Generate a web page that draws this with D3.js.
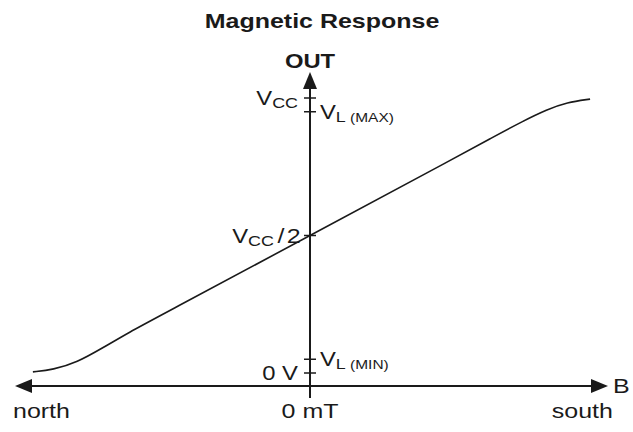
<!DOCTYPE html>
<html>
<head>
<meta charset="utf-8">
<script src="https://cdn.jsdelivr.net/npm/d3@7"></script>
<style>
  html, body { margin: 0; padding: 0; background: #fff; }
  svg { display: block; }
  text { font-family: "Liberation Sans", Arial, sans-serif; fill: #1a1a1a; }
</style>
</head>
<body>
<svg id="chart" width="633" height="432"></svg>
<script>
// Transfer curve: field B (mT, north negative) vs output (fraction of VCC)
const fieldMT = [-93.3, -86.5, -78.5, -69.7, -60.6, -51.2, 0, 51.2, 60.6, 71.7, 79.8, 86.5, 94.3];
const outFrac = [0.004, 0.012, 0.038, 0.092, 0.150, 0.204, 0.5, 0.796, 0.852, 0.916, 0.958, 0.984, 0.996];

// Output reference levels on the vertical axis
const levelValues = [1, 0.95, 0.5, 0.05, 0];
const levelSide   = ["left", "right", "left", "right", "left"];
const levelMain   = ["V", "V", "V", "V", "0 V"];
const levelSub    = ["CC", "L", "CC", "L", ""];
const levelSub2   = ["", " (MAX)", "", " (MIN)", ""];
const levelTail   = ["", "", "/2", "", ""];

// Field axis labels
const fieldLabels = ["north", "0 mT", "south"];
const fieldLabelAt = [-100, 0, 102];
const fieldLabelAnchor = ["start", "middle", "end"];

const svg = d3.select("#chart");
const ink = "#1a1a1a";
const SX = 1.19; // horizontal stretch of the lettering

const x = d3.scaleLinear().domain([-100, 100]).range([13, 607]);
const y = d3.scaleLinear().domain([0, 1]).range([373, 98]);

const x0 = x(0);
const axisY = 386;

function label(px, py, anchor, size, weight) {
  const g = svg.append("g").attr("transform", `translate(${px},${py}) scale(${SX},1)`);
  return g.append("text")
    .attr("text-anchor", anchor)
    .attr("font-size", size)
    .attr("font-weight", weight || "normal");
}

// Title
label(322, 28, "middle", 21, "bold").text("Magnetic Response");

// Horizontal (field) axis with arrowheads at both ends
svg.append("line").attr("x1", 26).attr("x2", 597).attr("y1", axisY).attr("y2", axisY)
  .attr("stroke", ink).attr("stroke-width", 2);
svg.append("path").attr("d", `M15,${axisY} L32,${axisY - 7} L32,${axisY + 7} Z`).attr("fill", ink);
svg.append("path").attr("d", `M608,${axisY} L591,${axisY - 7} L591,${axisY + 7} Z`).attr("fill", ink);

// Vertical (output) axis with arrowhead
svg.append("line").attr("x1", x0).attr("x2", x0).attr("y1", 398).attr("y2", 84)
  .attr("stroke", ink).attr("stroke-width", 2);
svg.append("path").attr("d", `M${x0},72 L${x0 - 7},89 L${x0 + 7},89 Z`).attr("fill", ink);

// Axis titles
label(x0, 68, "middle", 20, "bold").text("OUT");
label(613, 393, "start", 21).text("B");

// Level ticks and labels
levelValues.forEach((v, i) => {
  const py = y(v);
  svg.append("line").attr("x1", x0 - 6).attr("x2", x0 + 6).attr("y1", py).attr("y2", py)
    .attr("stroke", ink).attr("stroke-width", 1.5);
  const right = levelSide[i] === "right";
  const hasTail = !!levelTail[i];
  const px = right ? x0 + 10 : (hasTail ? x0 - 7 : x0 - 12);
  const t = label(px, py + 7, right ? "start" : "end", 20);
  t.append("tspan").text(levelMain[i]);
  if (levelSub[i]) t.append("tspan").attr("font-size", 15).attr("dy", 3).text(levelSub[i]);
  if (levelSub2[i]) t.append("tspan").attr("font-size", 13).text(levelSub2[i]);
  if (hasTail) t.append("tspan").attr("font-size", 21).attr("dy", -3).attr("dx", 3)
    .attr("letter-spacing", 2).text(levelTail[i]);
});

// Field labels under the axis
fieldLabels.forEach((s, i) => {
  label(x(fieldLabelAt[i]), 418, fieldLabelAnchor[i], 21).text(s);
});

// Transfer curve (smoothed through the sampled points)
const line = d3.line().x((d, i) => x(fieldMT[i])).y(d => y(d)).curve(d3.curveBasis);
svg.append("path").datum(outFrac).attr("d", line)
  .attr("fill", "none").attr("stroke", ink).attr("stroke-width", 1.6);
</script>
</body>
</html>
